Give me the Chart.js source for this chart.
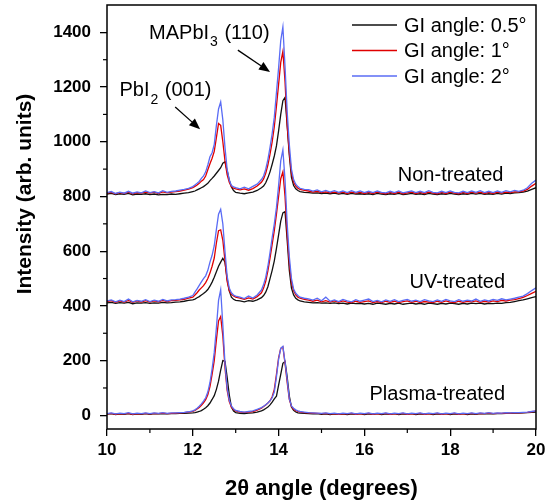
<!DOCTYPE html>
<html>
<head>
<meta charset="utf-8">
<script src="https://cdn.jsdelivr.net/npm/chart.js@4.4.0/dist/chart.umd.min.js"></script>
<style>
  html, body { margin: 0; padding: 0; background: #fff; }
  #wrap { width: 555px; height: 500px; }
</style>
</head>
<body>
<div id="wrap"><canvas id="xrd-chart"></canvas></div>
<script>
// 2-theta grid (degrees), finer around the two peaks
var angle = [10.0,10.1,10.2,10.3,10.4,10.5,10.6,10.7,10.8,10.9,11.0,11.1,11.2,11.3,11.4,11.5,11.6,11.7,11.8,11.9,
  12.0,12.05,12.1,12.15,12.2,12.25,12.3,12.35,12.4,12.45,12.5,12.55,12.6,12.65,12.7,12.75,12.8,12.85,12.9,12.95,13.0,
  13.1,13.2,13.3,13.4,13.5,
  13.6,13.65,13.7,13.75,13.8,13.85,13.9,13.95,14.0,14.05,14.1,14.15,14.2,14.25,14.3,14.35,14.4,14.45,14.5,
  14.6,14.7,14.8,14.9,15.0,15.1,15.2,15.3,15.4,15.5,15.6,15.7,15.8,15.9,16.0,16.1,16.2,16.3,16.4,16.5,16.6,16.7,16.8,16.9,
  17.0,17.1,17.2,17.3,17.4,17.5,17.6,17.7,17.8,17.9,18.0,18.1,18.2,18.3,18.4,18.5,18.6,18.7,18.8,18.9,
  19.0,19.1,19.2,19.3,19.4,19.5,19.6,19.7,19.8,19.9,20.0];

// Non-treated
var nt05 = [809,811,807,810,808,811,806,809,808,810,807,809,806,808,807,809,808,810,812,814,
  818,820,824,828,832,836,842,848,858,866,875,885,895,905,922,927,895,860,835,822,815,
  812,810,813,816,822,
  832,838,850,868,890,918,948,985,1040,1100,1150,1162,1060,950,870,840,828,822,818,
  815,814,812,813,811,812,810,812,809,811,808,811,809,810,808,810,807,811,809,807,
  810,808,811,807,809,811,808,810,807,811,809,807,810,808,811,809,807,810,808,811,
  809,811,808,810,808,811,809,812,811,813,814,816,820,826,832];
var nt1 = [812,815,810,814,811,816,810,814,812,816,812,816,811,817,813,816,818,820,823,827,
  832,837,842,848,856,862,875,898,920,940,965,1015,1067,1060,1000,930,880,852,836,830,828,
  824,828,823,829,838,
  852,864,885,915,955,1000,1055,1130,1210,1290,1330,1220,1060,960,885,852,838,830,826,
  822,820,816,819,814,817,813,816,812,816,811,816,812,815,811,815,811,816,812,810,
  815,811,816,810,813,816,811,815,811,816,812,810,815,811,816,812,810,815,811,816,
  812,816,811,815,811,816,812,816,814,817,817,820,826,838,848];
var nt2 = [814,818,811,816,812,819,812,817,813,820,814,818,813,821,815,819,820,823,826,830,
  836,842,848,855,866,875,890,915,945,960,990,1060,1120,1146,1080,980,900,860,840,835,832,
  828,834,828,837,845,
  862,875,900,935,980,1030,1090,1180,1270,1370,1420,1275,1110,990,900,862,845,836,830,
  826,825,820,824,817,822,816,821,815,820,814,821,815,820,814,819,814,820,815,813,
  819,814,820,813,817,820,814,819,814,821,815,813,819,814,820,815,813,819,814,820,
  815,821,814,819,814,820,815,821,817,822,819,823,832,848,860];

// UV-treated
var uv05 = [411,413,409,412,410,413,408,411,410,412,409,411,410,413,411,412,414,415,417,420,
  422,425,430,434,440,445,452,460,472,487,505,525,545,560,574,560,500,455,432,424,420,
  418,415,419,417,422,
  430,438,450,470,500,530,565,610,660,710,740,745,640,530,465,440,428,422,418,
  415,413,411,412,410,411,409,411,408,410,407,410,408,409,407,409,406,410,408,406,
  409,407,410,406,408,410,407,409,406,410,408,406,409,407,410,408,406,409,407,410,
  408,410,407,409,408,410,409,412,413,416,419,422,426,430,434];
var uv1 = [416,419,413,418,414,420,413,418,414,419,414,418,415,420,416,419,420,422,424,428,
  432,440,448,458,466,474,485,500,520,545,575,630,675,678,640,565,490,455,442,436,432,
  428,424,429,425,434,
  448,465,490,528,575,625,675,735,800,865,890,800,660,555,485,455,440,432,428,
  424,421,417,421,415,419,414,418,413,418,414,412,417,413,416,418,412,416,412,417,
  413,417,412,416,418,413,417,412,416,414,412,417,413,418,414,412,417,413,417,415,
  418,413,417,414,418,416,420,418,421,423,427,431,438,446,453];
var uv2 = [418,422,415,421,416,425,415,420,417,423,416,421,417,424,418,422,423,425,428,432,
  438,450,462,475,488,500,510,530,560,585,620,680,735,753,700,600,510,465,448,440,436,
  432,427,436,429,440,
  458,478,505,545,595,650,700,760,840,930,970,860,700,580,500,462,446,438,432,
  428,426,421,428,419,432,417,422,416,424,418,415,423,417,421,425,416,420,415,422,
  417,423,416,420,424,417,421,416,423,418,416,422,417,424,418,416,423,417,421,418,
  425,417,422,418,424,420,426,422,425,428,432,436,445,456,466];

// Plasma-treated
var pl05 = [4,6,3,5,4,6,3,5,4,6,4,6,5,6,5,6,6,7,7,8,
  9,10,12,14,17,22,28,35,45,58,72,95,125,165,200,198,140,75,30,16,10,
  7,6,8,9,12,
  16,20,25,30,38,48,60,70,110,150,190,197,140,70,30,18,12,9,8,
  7,6,5,6,4,5,3,5,4,5,3,5,4,6,3,5,4,6,3,5,
  4,6,3,5,4,6,3,5,4,6,3,5,4,6,3,5,4,6,3,5,
  4,6,5,6,5,6,6,7,7,8,8,9,10,11,12];
var pl1 = [5,7,4,6,5,7,4,6,5,7,5,7,6,8,6,7,8,9,10,12,
  14,18,23,29,37,46,57,75,105,150,200,276,345,361,290,175,92,50,30,21,16,
  12,11,12,14,19,
  26,32,38,45,53,68,95,150,210,245,250,190,120,58,32,22,17,14,12,
  10,9,8,7,6,7,5,6,4,6,5,7,4,6,5,7,4,6,5,7,
  4,6,5,7,4,6,5,7,4,6,5,7,4,6,5,7,4,6,5,7,
  5,7,6,8,6,7,7,8,8,9,9,10,11,13,15];
var pl2 = [6,9,5,8,6,10,5,8,6,9,6,9,7,10,7,9,9,10,11,13,
  16,20,26,33,42,52,64,85,120,170,230,320,420,459,330,190,100,55,34,24,18,
  14,12,14,16,22,
  28,33,39,45,53,64,85,140,205,245,252,195,130,60,34,26,20,16,14,
  12,10,9,8,7,9,6,8,5,8,6,9,5,8,6,9,5,8,6,9,
  5,8,6,9,5,8,6,9,5,8,6,9,5,8,6,9,5,8,6,9,
  6,9,7,10,7,9,8,10,9,10,10,11,12,14,16];

var xTicks = [10, 12, 14, 16, 18, 20];
var xMinor = [11, 13, 15, 17, 19];
var yTicks = [0, 200, 400, 600, 800, 1000, 1200, 1400];
var yMinor = [100, 300, 500, 700, 900, 1100, 1300];
var seriesLabels = ["GI angle: 0.5\u00b0", "GI angle: 1\u00b0", "GI angle: 2\u00b0"];
var seriesColors = ["#111111", "#e00000", "#5a6cf5"];

var FONT = "'Liberation Sans', Arial, sans-serif";

function pts(arr) {
  return arr.map(function (v, i) { return { x: angle[i], y: v }; });
}

function makeSet(arr, k, first) {
  return {
    label: first ? seriesLabels[k] : "",
    data: pts(arr),
    borderColor: seriesColors[k],
    borderWidth: 1.3,
    pointRadius: 0,
    tension: 0,
    order: 3 - k,
    showInLegend: first
  };
}

var datasets = [
  makeSet(nt05, 0, true), makeSet(nt1, 1, true), makeSet(nt2, 2, true),
  makeSet(uv05, 0, false), makeSet(uv1, 1, false), makeSet(uv2, 2, false),
  makeSet(pl05, 0, false), makeSet(pl1, 1, false), makeSet(pl2, 2, false)
];

function arrow(ctx, x0, y0, x1, y1) {
  var ang = Math.atan2(y1 - y0, x1 - x0);
  var hl = 11, hw = 4.5;
  var bx = x1 - hl * Math.cos(ang), by = y1 - hl * Math.sin(ang);
  ctx.beginPath();
  ctx.moveTo(x0, y0);
  ctx.lineTo(bx, by);
  ctx.stroke();
  ctx.beginPath();
  ctx.moveTo(x1, y1);
  ctx.lineTo(bx + hw * Math.sin(ang), by - hw * Math.cos(ang));
  ctx.lineTo(bx - hw * Math.sin(ang), by + hw * Math.cos(ang));
  ctx.closePath();
  ctx.fill();
}

// text with a subscript part: [main, sub, rest]
function subText(ctx, parts, x, y) {
  ctx.textAlign = "left";
  ctx.textBaseline = "middle";
  ctx.font = "20px " + FONT;
  ctx.fillText(parts[0], x, y);
  var w = ctx.measureText(parts[0]).width;
  ctx.font = "14px " + FONT;
  ctx.fillText(parts[1], x + w + 1, y + 9);
  var w2 = ctx.measureText(parts[1]).width;
  ctx.font = "20px " + FONT;
  ctx.fillText(parts[2], x + w + w2 + 2, y);
}

var decor = {
  id: "decor",
  afterDraw: function (chart) {
    var ctx = chart.ctx, a = chart.chartArea;
    var xs = chart.scales.x, ys = chart.scales.y;
    ctx.save();
    ctx.strokeStyle = "#000";
    ctx.fillStyle = "#000";

    // frame
    ctx.lineWidth = 1.5;
    ctx.strokeRect(a.left, a.top, a.right - a.left, a.bottom - a.top);

    // minor ticks
    ctx.lineWidth = 1.2;
    xMinor.forEach(function (v) {
      var px = xs.getPixelForValue(v);
      ctx.beginPath(); ctx.moveTo(px, a.bottom); ctx.lineTo(px, a.bottom + 4); ctx.stroke();
    });
    yMinor.forEach(function (v) {
      var py = ys.getPixelForValue(v);
      ctx.beginPath(); ctx.moveTo(a.left - 4, py); ctx.lineTo(a.left, py); ctx.stroke();
    });

    // axis titles
    ctx.font = "bold 22px " + FONT;
    ctx.textAlign = "center";
    ctx.textBaseline = "middle";
    ctx.fillText("2\u03b8 angle (degrees)", (a.left + a.right) / 2, 489);
    ctx.font = "bold 21px " + FONT;
    ctx.save();
    ctx.translate(25, 194);
    ctx.rotate(-Math.PI / 2);
    ctx.fillText("Intensity (arb. units)", 0, 0);
    ctx.restore();

    // legend
    ctx.font = "20px " + FONT;
    ctx.textAlign = "left";
    ctx.textBaseline = "middle";
    chart.data.datasets.filter(function (d) { return d.showInLegend; }).forEach(function (d, i) {
      var ly = a.top + 20 + i * 25.5;
      ctx.strokeStyle = d.borderColor;
      ctx.lineWidth = 1.5;
      ctx.beginPath(); ctx.moveTo(a.right - 184, ly); ctx.lineTo(a.right - 139, ly); ctx.stroke();
      ctx.fillStyle = "#000";
      ctx.fillText(d.label, a.right - 132, ly + 1);
    });

    // sample labels
    ctx.fillStyle = "#000";
    ctx.font = "20px " + FONT;
    ctx.textAlign = "right";
    ctx.fillText("Non-treated", xs.getPixelForValue(19.24), ys.getPixelForValue(878));
    ctx.fillText("UV-treated", xs.getPixelForValue(19.28), ys.getPixelForValue(484));
    ctx.fillText("Plasma-treated", xs.getPixelForValue(19.28), ys.getPixelForValue(76));

    // peak annotations
    subText(ctx, ["MAPbI", "3", " (110)"], xs.getPixelForValue(10.98), ys.getPixelForValue(1397));
    subText(ctx, ["PbI", "2", " (001)"], xs.getPixelForValue(10.29), ys.getPixelForValue(1186));
    ctx.strokeStyle = "#000";
    ctx.lineWidth = 1.3;
    arrow(ctx, xs.getPixelForValue(13.05), ys.getPixelForValue(1335), xs.getPixelForValue(13.8), ys.getPixelForValue(1255));
    arrow(ctx, xs.getPixelForValue(11.59), ys.getPixelForValue(1127), xs.getPixelForValue(12.17), ys.getPixelForValue(1046));
    ctx.restore();
  }
};

var chart = new Chart(document.getElementById("xrd-chart"), {
  type: "line",
  data: { datasets: datasets },
  plugins: [decor],
  options: {
    responsive: true,
    maintainAspectRatio: false,
    animation: false,
    layout: { padding: { top: 5, right: 19, left: 0, bottom: 0 } },
    plugins: { legend: { display: false }, tooltip: { enabled: false } },
    scales: {
      x: {
        type: "linear",
        min: 10,
        max: 20,
        afterBuildTicks: function (s) { s.ticks = xTicks.map(function (v) { return { value: v }; }); },
        afterFit: function (s) { s.height = 71; s.paddingLeft = 0; s.paddingRight = 0; },
        border: { display: false },
        grid: { drawOnChartArea: false, drawTicks: true, tickLength: 7, tickColor: "#000", lineWidth: 1.3 },
        ticks: { color: "#000", padding: 4, maxRotation: 0, font: { family: FONT, size: 17, weight: "bold" } }
      },
      y: {
        min: -50,
        max: 1500,
        afterBuildTicks: function (s) { s.ticks = yTicks.map(function (v) { return { value: v }; }); },
        afterFit: function (s) { s.width = 107; s.paddingTop = 0; s.paddingBottom = 0; },
        border: { display: false },
        grid: { drawOnChartArea: false, drawTicks: true, tickLength: 7, tickColor: "#000", lineWidth: 1.3 },
        ticks: {
          color: "#000", padding: 9, font: { family: FONT, size: 17, weight: "bold" },
          callback: function (v) { return String(v); }
        }
      }
    }
  }
});
</script>
</body>
</html>
